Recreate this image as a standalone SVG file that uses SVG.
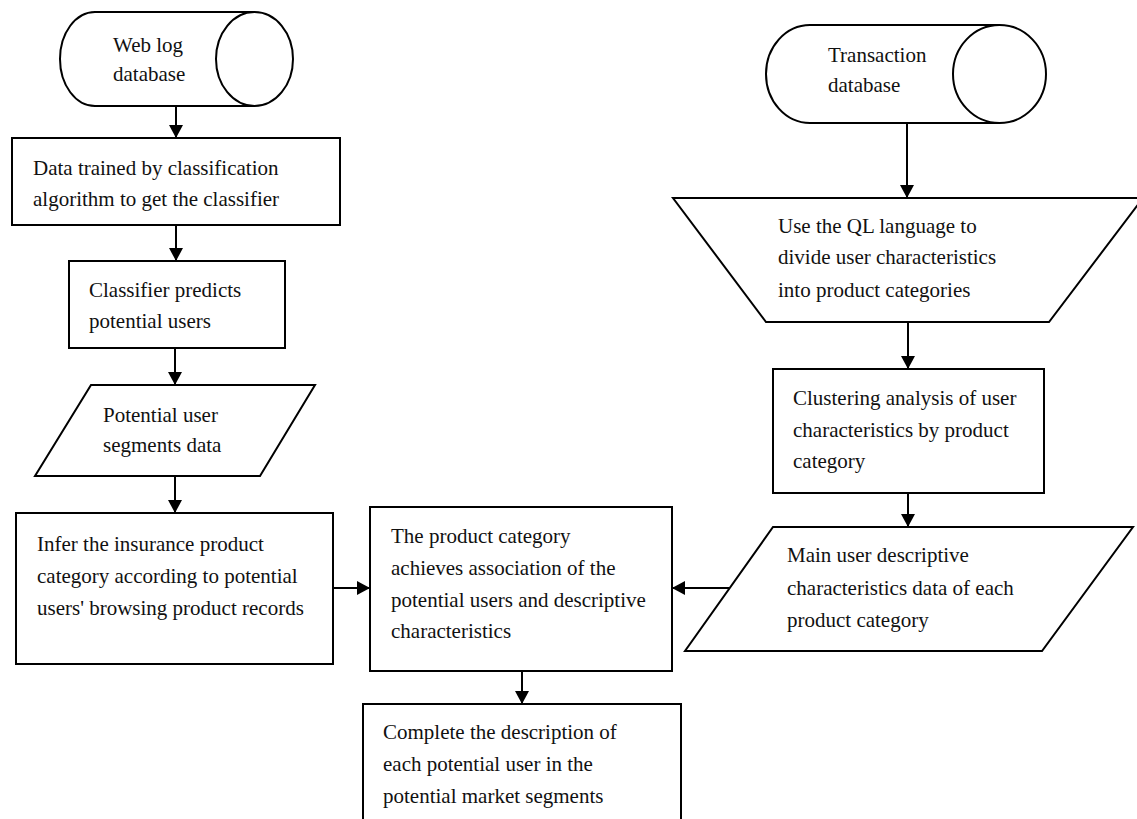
<svg xmlns="http://www.w3.org/2000/svg" width="1137" height="819" viewBox="0 0 1137 819">
<style>
.s{fill:#fff;stroke:#000;stroke-width:2}
.t{font-family:'Liberation Serif','DejaVu Serif','Times New Roman',serif;font-size:21px;fill:#111}
.c{stroke:#000;stroke-width:2;fill:none;marker-end:url(#ah)}
</style>
<defs>
<marker id="ah" markerUnits="userSpaceOnUse" markerWidth="16" markerHeight="16" viewBox="0 0 16 16" refX="14" refY="8" orient="auto">
<path d="M1,1 L14,8 L1,15 Z" fill="#000"/>
</marker>
</defs>
<rect width="1137" height="819" fill="#fff"/>
<g id="weblog">
<path class="s" d="M254,12 H95 A35,47 0 0 0 95,106 H254"/>
<ellipse class="s" cx="254.5" cy="59" rx="38.5" ry="47"/>
<text class="t" x="113" y="52">Web log</text>
<text class="t" x="113" y="81">database</text>
</g>
<g id="train">
<rect class="s" x="12" y="138" width="328" height="87"/>
<text class="t" x="33" y="175">Data trained by classification</text>
<text class="t" x="33" y="206">algorithm to get the classifier</text>
</g>
<g id="classifier">
<rect class="s" x="69" y="261" width="216" height="87"/>
<text class="t" x="89" y="297">Classifier predicts</text>
<text class="t" x="89" y="328">potential users</text>
</g>
<g id="segments">
<polygon class="s" points="91,385 315,385 260,476 35,476"/>
<text class="t" x="103" y="422">Potential user</text>
<text class="t" x="103" y="452">segments data</text>
</g>
<g id="infer">
<rect class="s" x="16" y="513" width="317" height="151"/>
<text class="t" x="37" y="551">Infer the insurance product</text>
<text class="t" x="37" y="583">category according to potential</text>
<text class="t" x="37" y="615">users' browsing product records</text>
</g>
<g id="assoc">
<rect class="s" x="370" y="507" width="302" height="164"/>
<text class="t" x="391" y="543">The product category</text>
<text class="t" x="391" y="575">achieves association of the</text>
<text class="t" x="391" y="607">potential users and descriptive</text>
<text class="t" x="391" y="638">characteristics</text>
</g>
<g id="complete">
<rect class="s" x="363" y="704" width="318" height="140"/>
<text class="t" x="383" y="739">Complete the description of</text>
<text class="t" x="383" y="771">each potential user in the</text>
<text class="t" x="383" y="803">potential market segments</text>
</g>
<g id="transaction">
<path class="s" d="M999,25 H810 A44,49 0 0 0 810,123 H999"/>
<ellipse class="s" cx="999.5" cy="74" rx="46.5" ry="49"/>
<text class="t" x="828" y="62">Transaction</text>
<text class="t" x="828" y="92">database</text>
</g>
<g id="ql">
<polygon class="s" points="673,198 1143,198 1049,322 766,322"/>
<text class="t" x="778" y="233">Use the QL language to</text>
<text class="t" x="778" y="264">divide user characteristics</text>
<text class="t" x="778" y="297">into product categories</text>
</g>
<g id="cluster">
<rect class="s" x="773" y="369" width="271" height="124"/>
<text class="t" x="793" y="405">Clustering analysis of user</text>
<text class="t" x="793" y="437">characteristics by product</text>
<text class="t" x="793" y="468">category</text>
</g>
<g id="maindata">
<polygon class="s" points="773,527 1133,527 1042,651 685,651"/>
<text class="t" x="787" y="562">Main user descriptive</text>
<text class="t" x="787" y="595">characteristics data of each</text>
<text class="t" x="787" y="627">product category</text>
</g>
<g id="connectors">
<path class="c" d="M176,106 V138"/>
<path class="c" d="M176,225 V261"/>
<path class="c" d="M175,348 V385"/>
<path class="c" d="M175,476 V513"/>
<path class="c" d="M333,588 H370"/>
<path class="c" d="M729,588 H672"/>
<path class="c" d="M522,671 V704"/>
<path class="c" d="M907,123 V198"/>
<path class="c" d="M908,322 V369"/>
<path class="c" d="M908,493 V527"/>
</g>
</svg>
